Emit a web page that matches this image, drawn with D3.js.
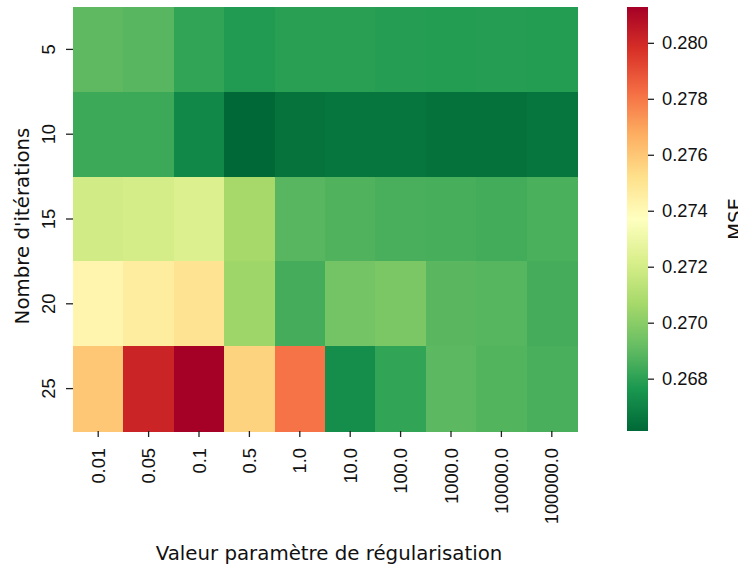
<!DOCTYPE html>
<html>
<head>
<meta charset="utf-8">
<script src="https://cdn.jsdelivr.net/npm/d3@7"></script>
<style>
  html, body { margin: 0; padding: 0; background: #fff; }
  svg { display: block; font-family: "DejaVu Sans", sans-serif; }
</style>
</head>
<body>
<svg id="chart" width="738" height="570"></svg>
<script>
// Regularisation parameter values (columns) and iteration counts (rows)
const regParams = ["0.01", "0.05", "0.1", "0.5", "1.0", "10.0", "100.0", "1000.0", "10000.0", "100000.0"];
const iterations = ["5", "10", "15", "20", "25"];

// MSE per iteration count, one value per regularisation parameter
const mse5  = [0.26901, 0.26886, 0.26813, 0.26778, 0.26792, 0.26792, 0.26787, 0.26783, 0.26787, 0.26783];
const mse10 = [0.26833, 0.26833, 0.26715, 0.26613, 0.26648, 0.26655, 0.26655, 0.26643, 0.26643, 0.26655];
const mse15 = [0.27195, 0.27204, 0.27231, 0.27068, 0.26889, 0.26872, 0.26858, 0.26855, 0.26846, 0.26863];
const mse20 = [0.27419, 0.27463, 0.27502, 0.27049, 0.26848, 0.26949, 0.26968, 0.26892, 0.26884, 0.26848];
const mse25 = [0.27598, 0.28013, 0.28128, 0.27561, 0.27810, 0.26733, 0.26813, 0.26898, 0.26878, 0.26860];
const mseRows = [mse5, mse10, mse15, mse20, mse25];

const colorbarTicks = [0.268, 0.270, 0.272, 0.274, 0.276, 0.278, 0.280];

// RdYlGn stops, reversed so that low MSE is green and high MSE is red
const rdYlGn = ["#a50026", "#d73027", "#f46d43", "#fdae61", "#fee08b", "#ffffbf",
                "#d9ef8b", "#a6d96a", "#66bd63", "#1a9850", "#006837"];
const paletteR = rdYlGn.slice().reverse();

const cells = [];
mseRows.forEach((row, i) => row.forEach((v, j) => cells.push({ it: iterations[i], reg: regParams[j], v })));

const vmin = d3.min(cells, d => d.v);
const vmax = d3.max(cells, d => d.v);

const color = d3.scaleLinear()
  .domain(paletteR.map((_, k) => vmin + (vmax - vmin) * k / (paletteR.length - 1)))
  .range(paletteR)
  .interpolate(d3.interpolateRgb)
  .clamp(true);

const svg = d3.select("#chart");
const plot = { left: 73, right: 577, top: 7, bottom: 431 };
const tickFont = 18.3;
const titleFont = 19.8;

const x = d3.scaleBand().domain(regParams).range([plot.left, plot.right]);
const y = d3.scaleBand().domain(iterations).range([plot.top, plot.bottom]);

// Heatmap cells
svg.append("g")
  .attr("shape-rendering", "crispEdges")
  .selectAll("rect")
  .data(cells)
  .join("rect")
  .attr("x", d => x(d.reg))
  .attr("y", d => y(d.it))
  .attr("width", x.bandwidth() + 0.5)
  .attr("height", y.bandwidth() + 0.5)
  .attr("fill", d => color(d.v));

// X axis: tick labels rotated to read bottom-to-top
const xAxis = svg.append("g")
  .attr("transform", `translate(0,${plot.bottom})`)
  .call(d3.axisBottom(x).tickSize(6).tickPadding(0));
xAxis.select(".domain").remove();
xAxis.selectAll(".tick line").attr("stroke", "#222").attr("stroke-width", 1.3);
xAxis.selectAll(".tick text")
  .attr("font-size", tickFont)
  .attr("fill", "#111")
  .attr("text-anchor", "end")
  .attr("dy", null)
  .attr("y", 0)
  .attr("transform", "translate(6.5,17) rotate(-90)");

// Y axis: tick labels rotated the same way
const yAxis = svg.append("g")
  .attr("transform", `translate(${plot.left},0)`)
  .call(d3.axisLeft(y).tickSize(7).tickPadding(0));
yAxis.select(".domain").remove();
yAxis.selectAll(".tick line").attr("stroke", "#222").attr("stroke-width", 1.3);
yAxis.selectAll(".tick text")
  .attr("font-size", tickFont)
  .attr("fill", "#111")
  .attr("text-anchor", "middle")
  .attr("x", 0)
  .attr("dy", null)
  .attr("transform", "translate(-18.5,0) rotate(-90)");

// Axis titles
svg.append("text")
  .attr("x", (plot.left + plot.right) / 2 + 4)
  .attr("y", 560)
  .attr("text-anchor", "middle")
  .attr("font-size", titleFont)
  .attr("fill", "#111")
  .text("Valeur paramètre de régularisation");

svg.append("text")
  .attr("transform", `translate(29,${(plot.top + plot.bottom) / 2 + 7}) rotate(-90)`)
  .attr("text-anchor", "middle")
  .attr("font-size", titleFont)
  .attr("fill", "#111")
  .text("Nombre d'itérations");

// Colour bar
const cb = { left: 627, width: 21 };
const cbScale = d3.scaleLinear().domain([vmin, vmax]).range([plot.bottom, plot.top]);

const defs = svg.append("defs");
const grad = defs.append("linearGradient")
  .attr("id", "mse-grad")
  .attr("x1", 0).attr("y1", 1).attr("x2", 0).attr("y2", 0);
d3.range(0, 1.0001, 0.02).forEach(t => {
  grad.append("stop")
    .attr("offset", t)
    .attr("stop-color", color(vmin + t * (vmax - vmin)));
});

svg.append("rect")
  .attr("x", cb.left)
  .attr("y", plot.top)
  .attr("width", cb.width)
  .attr("height", plot.bottom - plot.top)
  .attr("fill", "url(#mse-grad)");

const cbAxis = svg.append("g")
  .attr("transform", `translate(${cb.left + cb.width},0)`)
  .call(d3.axisRight(cbScale).tickValues(colorbarTicks).tickFormat(d3.format(".3f")).tickSize(6).tickPadding(8));
cbAxis.select(".domain").remove();
cbAxis.selectAll(".tick line").attr("stroke", "#222").attr("stroke-width", 1.3);
cbAxis.selectAll(".tick text")
  .attr("font-size", tickFont)
  .attr("fill", "#111");

svg.append("text")
  .attr("transform", `translate(727,${(plot.top + plot.bottom) / 2}) rotate(-90)`)
  .attr("text-anchor", "middle")
  .attr("dy", "0.75em")
  .attr("font-size", titleFont)
  .attr("fill", "#111")
  .text("MSE");
</script>
</body>
</html>
